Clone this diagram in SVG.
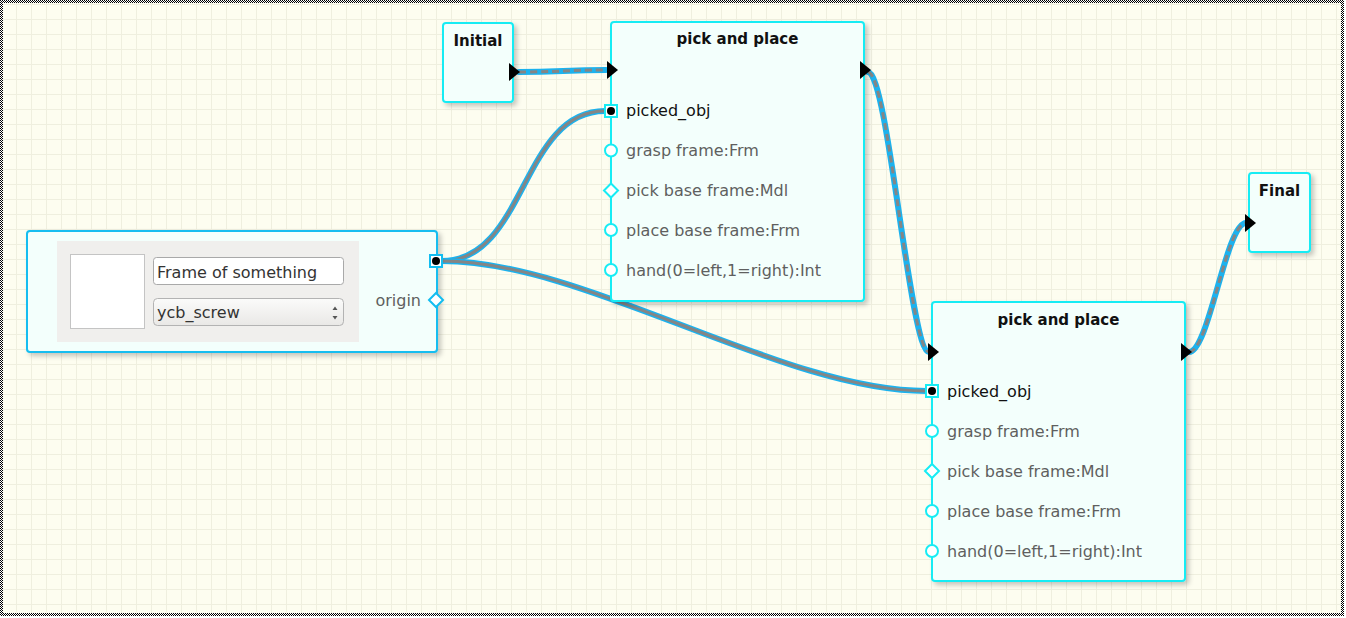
<svg xmlns="http://www.w3.org/2000/svg" width="1346" height="618" viewBox="0 0 1346 618">
<defs>
<pattern id="checker" width="2" height="2" patternUnits="userSpaceOnUse">
<rect width="2" height="2" fill="#ffffff"/>
<rect width="1" height="1" fill="#000000"/>
<rect x="1" y="1" width="1" height="1" fill="#000000"/>
</pattern>
<pattern id="grid" x="16" y="19" width="15" height="15" patternUnits="userSpaceOnUse">
<rect width="1" height="15" fill="#efefdf"/>
<rect width="15" height="1" fill="#efefdf"/>
</pattern>
<filter id="shadow" x="-10%" y="-10%" width="130%" height="130%">
<feDropShadow dx="3" dy="3" stdDeviation="2.5" flood-color="#000" flood-opacity="0.22"/>
</filter>
<linearGradient id="combo" x1="0" y1="0" x2="0" y2="1">
<stop offset="0" stop-color="#fbfbfa"/>
<stop offset="1" stop-color="#e9e8e6"/>
</linearGradient>
</defs>
<style>
.node{fill:#f3fffc;stroke:#16ecf4;stroke-width:2;filter:url(#shadow)}
.fnode{fill:#f3fffc;stroke:#12bdf0;stroke-width:2;filter:url(#shadow)}
.title{font-family:"DejaVu Sans",sans-serif;font-weight:bold;font-size:15px;fill:#111;text-anchor:middle}
.lbl{font-family:"DejaVu Sans",sans-serif;font-size:16px;fill:#5f5f5f}
.lbl.on{fill:#111}
.port{fill:#ffffff;stroke:#16ecf4;stroke-width:2}
.fport{fill:#ffffff;stroke:#12bdf0;stroke-width:2}
.dot{fill:#000}
.exec{fill:#000}
.wblue{fill:none;stroke:#1cb2ee;stroke-width:6;stroke-linecap:round}
.wgray{fill:none;stroke:#858585;stroke-width:3}
.dash{stroke-dasharray:7 4}
</style>
<rect width="1346" height="618" fill="#ffffff"/>
<rect x="0" y="0" width="1344" height="616" fill="url(#checker)"/>
<rect x="3" y="3" width="1338" height="610" fill="#fdfdf0"/>
<rect x="3" y="3" width="1338" height="610" fill="url(#grid)"/>

<g id="connectors">
<path class="wblue" d="M519,72 C560,72 566,70 606,70"/>
<path class="wgray dash" d="M519,72 C560,72 566,70 606,70"/>
<path class="wblue" d="M868,72 C888,72 910,352 929,352"/>
<path class="wgray dash" d="M868,72 C888,72 910,352 929,352"/>
<path class="wblue" d="M1189,352 C1209,352 1226,223 1246,223"/>
<path class="wgray dash" d="M1189,352 C1209,352 1226,223 1246,223"/>
<path class="wblue" d="M442,261 C526,261 521,111 605,111"/>
<path class="wgray" d="M442,261 C526,261 521,111 605,111"/>
<path class="wblue" d="M442,261 C586,261 782,391 926,391"/>
<path class="wgray" d="M442,261 C586,261 782,391 926,391"/>
</g>

<g id="node-initial">
<rect class="node" x="443" y="23" width="70" height="79" rx="3"/>
<text class="title" x="478" y="46">Initial</text>
<polygon class="exec" points="509,63 520,72 509,81"/>
</g>

<g id="node-pick1">
<rect class="node" x="611" y="22" width="253" height="279" rx="3"/>
<text class="title" x="737.5" y="44">pick and place</text>
<polygon class="exec" points="607,61 618,70 607,79"/>
<polygon class="exec" points="860,61 871,70 860,79"/>
<rect class="port" x="605" y="105" width="12" height="12"/>
<circle class="dot" cx="611" cy="111" r="4"/>
<text class="lbl on" x="626" y="116">picked_obj</text>
<circle class="port" cx="611" cy="150.5" r="6"/>
<text class="lbl" x="626" y="156">grasp frame:Frm</text>
<polygon class="port" points="611,183.5 618,190.5 611,197.5 604,190.5"/>
<text class="lbl" x="626" y="196">pick base frame:Mdl</text>
<circle class="port" cx="611" cy="230" r="6"/>
<text class="lbl" x="626" y="236">place base frame:Frm</text>
<circle class="port" cx="611" cy="270" r="6"/>
<text class="lbl" x="626" y="276">hand(0=left,1=right):Int</text>
</g>

<g id="node-pick2">
<rect class="node" x="932" y="302" width="253" height="279" rx="3"/>
<text class="title" x="1058.5" y="325">pick and place</text>
<polygon class="exec" points="928,343 939,352 928,361"/>
<polygon class="exec" points="1181,343 1192,352 1181,361"/>
<rect class="port" x="926" y="385" width="12" height="12"/>
<circle class="dot" cx="932" cy="391" r="4"/>
<text class="lbl on" x="947" y="397">picked_obj</text>
<circle class="port" cx="932" cy="431" r="6"/>
<text class="lbl" x="947" y="437">grasp frame:Frm</text>
<polygon class="port" points="932,464 939,471 932,478 925,471"/>
<text class="lbl" x="947" y="477">pick base frame:Mdl</text>
<circle class="port" cx="932" cy="511" r="6"/>
<text class="lbl" x="947" y="517">place base frame:Frm</text>
<circle class="port" cx="932" cy="551" r="6"/>
<text class="lbl" x="947" y="557">hand(0=left,1=right):Int</text>
</g>

<g id="node-final">
<rect class="node" x="1249" y="173" width="61" height="79" rx="3"/>
<text class="title" x="1279.5" y="196">Final</text>
<polygon class="exec" points="1245,214 1256,223 1245,232"/>
</g>

<g id="node-frame">
<rect class="fnode" x="27" y="231" width="410" height="121" rx="3"/>
<rect x="57" y="241" width="302" height="101" fill="#f0efed"/>
<rect x="70.5" y="254.5" width="74" height="74" fill="#ffffff" stroke="#c4c4c4" stroke-width="1"/>
<rect x="153.5" y="257.5" width="190" height="27" rx="3" fill="#ffffff" stroke="#a9a9a9" stroke-width="1"/>
<text x="157" y="278" font-family="DejaVu Sans, sans-serif" font-size="16" fill="#333">Frame of something</text>
<rect x="153.5" y="298.5" width="190" height="27" rx="4" fill="url(#combo)" stroke="#b3b3b3" stroke-width="1"/>
<text x="157" y="318" font-family="DejaVu Sans, sans-serif" font-size="16" fill="#333">ycb_screw</text>
<polygon points="332.5,310 335,306.5 337.5,310" fill="#555"/>
<polygon points="332.5,316 335,319.5 337.5,316" fill="#555"/>
<text class="lbl" x="421" y="306" text-anchor="end">origin</text>
<rect class="fport" x="430" y="255" width="12" height="12"/>
<circle class="dot" cx="436" cy="261" r="4"/>
<polygon class="fport" points="436,293 443,300 436,307 429,300"/>
</g>
</svg>
